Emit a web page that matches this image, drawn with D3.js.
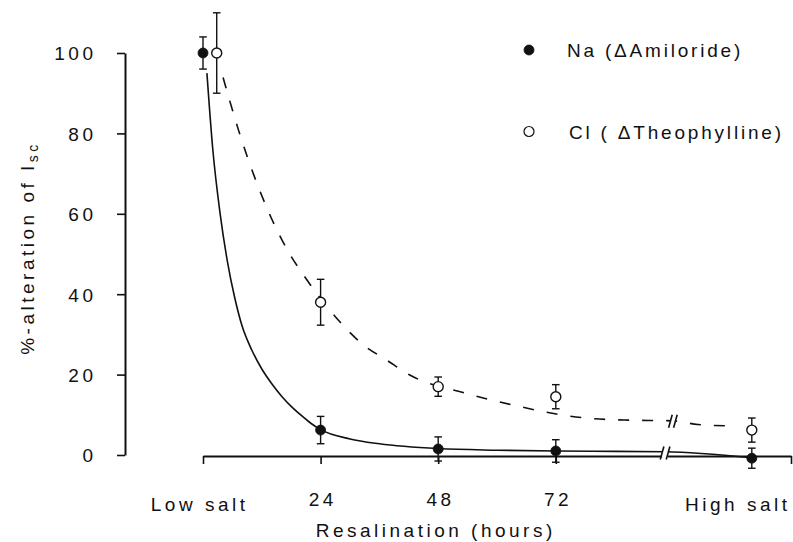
<!DOCTYPE html>
<html>
<head>
<meta charset="utf-8">
<script src="https://cdn.jsdelivr.net/npm/d3@7"></script>
<style>
  body { margin: 0; background: #fff; }
  svg text { font-family: "Liberation Sans", Arial, Helvetica, sans-serif; fill: #111; letter-spacing: 3.5px; }
</style>
</head>
<body>
<div id="chart"></div>
<script>
// DATA
const xCategories = ["Low salt", "24", "48", "72", "High salt"];
const naHours = [0, 24, 48, 72, 112];      // "High salt" sits past the axis break
const clHours = [2.8, 24, 48, 72, 112];    // low-salt Cl point drawn a bit to the right
const naValues = [100, 6.2, 1.5, 1.0, -0.8];
const naErrors = [4, 3.4, 3, 2.8, 2.5];
const clValues = [100, 38, 17, 14.5, 6.2];
const clErrors = [10, 5.7, 2.4, 3, 3];

// fitted curves (hours, %)
const naFitHours  = [0.8, 2, 3.5, 5, 6.5, 8, 10, 12, 14, 16, 18, 20, 22, 24, 30, 36, 48, 60, 72, 84, 94.3, 112];
const naFitValues = [95, 76, 60, 48, 39, 32, 26, 21.4, 17.8, 14.7, 12.1, 9.9, 7.9, 6.3, 4.0, 2.8, 1.6, 1.2, 1.0, 0.9, 0.8, -0.7];
const clFitHours  = [4.1, 7.2, 11, 17.8, 20.5, 27.6, 32.7, 37.5, 42.2, 53.8, 63.4, 73, 79, 86, 95.7, 101, 108.6];
const clFitValues = [93.9, 81, 67.6, 49.8, 44.8, 33.6, 27.4, 23.6, 19.9, 15.3, 12.4, 10, 9.1, 8.7, 8.5, 7.6, 7.2];

const yTicks = [0, 20, 40, 60, 80, 100];
const xTicks = [0, 24, 48, 72, 120];
const breakHour = 94.3;

const legendLabels = ["Na (\u0394Amiloride)", "Cl ( \u0394Theophylline)"];

// CONFIG
const width = 793, height = 542;
const LS = 3.5; // letter spacing

const svg = d3.select("#chart").append("svg")
    .attr("width", width)
    .attr("height", height);

const x = d3.scaleLinear().domain([0, 120]).range([203, 791]);
const y = d3.scaleLinear().domain([0, 100]).range([455, 53]);
const axisY = 456;

// Y axis
const gy = svg.append("g")
    .attr("transform", "translate(125,0)")
    .call(d3.axisLeft(y).tickValues(yTicks).tickSize(8).tickSizeOuter(0).tickPadding(24 - LS));
gy.select(".domain").attr("stroke", "#111").attr("stroke-width", 2);
gy.selectAll(".tick line").attr("stroke", "#111").attr("stroke-width", 1.6);
gy.selectAll(".tick text")
    .attr("font-size", 19)
    .attr("dy", "0.36em")
    .style("font-family", null);

// X axis
const gx = svg.append("g")
    .attr("transform", `translate(0,${axisY})`)
    .call(d3.axisBottom(x).tickValues(xTicks).tickSize(8).tickSizeOuter(0)
        .tickFormat(d => (d > 0 && d < 100) ? d : ""));
gx.select(".domain").attr("stroke", "#111").attr("stroke-width", 2);
gx.selectAll(".tick line").attr("stroke", "#111").attr("stroke-width", 1.6);
gx.selectAll(".tick text")
    .attr("font-size", 19)
    .attr("y", 0)
    .attr("dy", 50)
    .attr("dx", LS / 2);

// category labels at the ends
svg.append("text")
    .attr("x", 245 + LS).attr("y", 511)
    .attr("text-anchor", "end")
    .attr("font-size", 19)
    .text(xCategories[0]);
svg.append("text")
    .attr("x", 787 + LS).attr("y", 511)
    .attr("text-anchor", "end")
    .attr("font-size", 19)
    .text(xCategories[4]);

// axis titles
svg.append("text")
    .attr("x", 434 + LS / 2).attr("y", 537)
    .attr("text-anchor", "middle")
    .attr("font-size", 19)
    .text("Resalination (hours)");

const yTitle = svg.append("text")
    .attr("transform", "translate(34,248) rotate(-90)")
    .attr("text-anchor", "middle")
    .attr("font-size", 19);
yTitle.append("tspan").text("%-alteration of I");
yTitle.append("tspan").attr("font-size", 14).attr("dy", 4).text("sc");

// CURVES
const line = d3.line()
    .x(d => x(d[0]))
    .y(d => y(d[1]))
    .curve(d3.curveMonotoneX);

svg.append("path")
    .datum(naFitHours.map((h, i) => [h, naFitValues[i]]))
    .attr("d", line)
    .attr("fill", "none")
    .attr("stroke", "#111")
    .attr("stroke-width", 1.6);

svg.append("path")
    .datum(clFitHours.map((h, i) => [h, clFitValues[i]]))
    .attr("d", line)
    .attr("fill", "none")
    .attr("stroke", "#111")
    .attr("stroke-width", 1.6)
    .attr("stroke-dasharray", "11,13");

// BREAK MARKS
function drawBreak(cx, cy, gap, h) {
    svg.append("rect")
        .attr("x", cx - gap / 2).attr("y", cy - h / 2 - 2)
        .attr("width", gap).attr("height", h + 4)
        .attr("fill", "#fff");
    [-gap / 2, gap / 2].forEach(o => {
        svg.append("line")
            .attr("x1", cx + o - 1.8).attr("y1", cy + h / 2)
            .attr("x2", cx + o + 1.8).attr("y2", cy - h / 2)
            .attr("stroke", "#111")
            .attr("stroke-width", 1.6);
    });
}
drawBreak(x(breakHour), 453, 6, 13);
drawBreak(x(breakHour + 1.6), y(8.4), 5, 13);

// ERROR BARS + MARKERS
function drawSeries(hours, values, errors, filled) {
    const g = svg.append("g");
    hours.forEach((h, i) => {
        const cx = x(h);
        const top = y(values[i] + errors[i]);
        const bot = y(values[i] - errors[i]);
        g.append("line")
            .attr("x1", cx).attr("x2", cx)
            .attr("y1", top).attr("y2", bot)
            .attr("stroke", "#111").attr("stroke-width", 1.4);
        [top, bot].forEach(yy => {
            g.append("line")
                .attr("x1", cx - 3.8).attr("x2", cx + 3.8)
                .attr("y1", yy).attr("y2", yy)
                .attr("stroke", "#111").attr("stroke-width", 1.4);
        });
    });
    g.selectAll("circle")
        .data(hours.map((h, i) => [h, values[i]]))
        .join("circle")
        .attr("cx", d => x(d[0]))
        .attr("cy", d => y(d[1]))
        .attr("r", 5)
        .attr("fill", filled ? "#111" : "#fff")
        .attr("stroke", "#111")
        .attr("stroke-width", filled ? 0.8 : 1.4);
}
drawSeries(clHours, clValues, clErrors, false);
drawSeries(naHours, naValues, naErrors, true);

// LEGEND
const legend = svg.append("g");
legendLabels.forEach((label, i) => {
    const ly = i === 0 ? 50 : 131.5;
    legend.append("circle")
        .attr("cx", 529).attr("cy", ly)
        .attr("r", 5)
        .attr("fill", i === 0 ? "#111" : "#fff")
        .attr("stroke", "#111")
        .attr("stroke-width", i === 0 ? 0.8 : 1.2);
    legend.append("text")
        .attr("x", i === 0 ? 567 : 569)
        .attr("y", ly + 7)
        .attr("font-size", 19)
        .style("letter-spacing", "2.8px")
        .text(label);
});
</script>
</body>
</html>
